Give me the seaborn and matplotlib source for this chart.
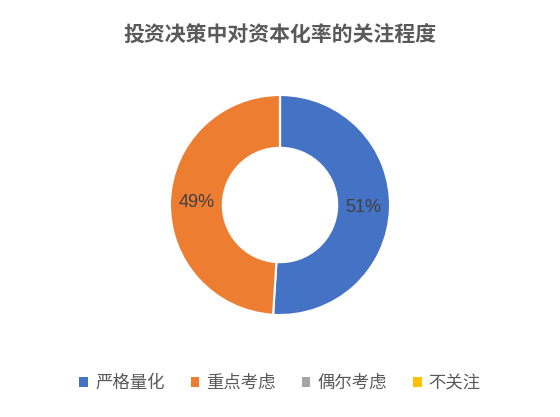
import matplotlib
matplotlib.use("Agg")
import matplotlib.pyplot as plt
import seaborn as sns
from matplotlib.patches import Patch

# data
categories = ["严格量化", "重点考虑", "偶尔考虑", "不关注"]
shares = [51, 49, 0, 0]
colors = ["#4472C4", "#ED7D31", "#A5A5A5", "#FFC000"]
title = "投资决策中对资本化率的关注程度"

sns.set_theme(style="white")
plt.rcParams["font.family"] = ["Noto Sans CJK SC", "DejaVu Sans"]

fig = plt.figure(figsize=(5.6, 4.17), dpi=100)
W, H = 560, 417
cx, cy, r = 280, 205, 110
ax = fig.add_axes([(cx - r) / W, (H - cy - r) / H, 2 * r / W, 2 * r / H])


def pct_label(p):
    return f"{p:.0f}%" if p > 0.5 else ""


wedges, _, autotexts = ax.pie(
    shares,
    colors=colors,
    startangle=90,
    counterclock=False,
    autopct=pct_label,
    pctdistance=0.76,
    wedgeprops=dict(width=0.48, edgecolor="white", linewidth=1.5),
    textprops=dict(color="#404040", fontsize=13, family=["Liberation Sans", "DejaVu Sans"]),
)
ax.set_xlim(-1, 1)
ax.set_ylim(-1, 1)
ax.set_aspect("equal")

fig.text(0.5, 1 - 35 / H, title, ha="center", va="center",
         fontsize=15, fontweight="bold", color="#595959")

handles = [Patch(facecolor=c, edgecolor="none") for c in colors]
fig.legend(handles, categories, loc="center", bbox_to_anchor=(0.5, 1 - 383 / H),
           ncol=4, frameon=False, fontsize=12.5, labelcolor="#595959",
           handlelength=0.5, handleheight=0.5, handletextpad=0.4, columnspacing=1.5)

fig.savefig("out.png", dpi=100)
